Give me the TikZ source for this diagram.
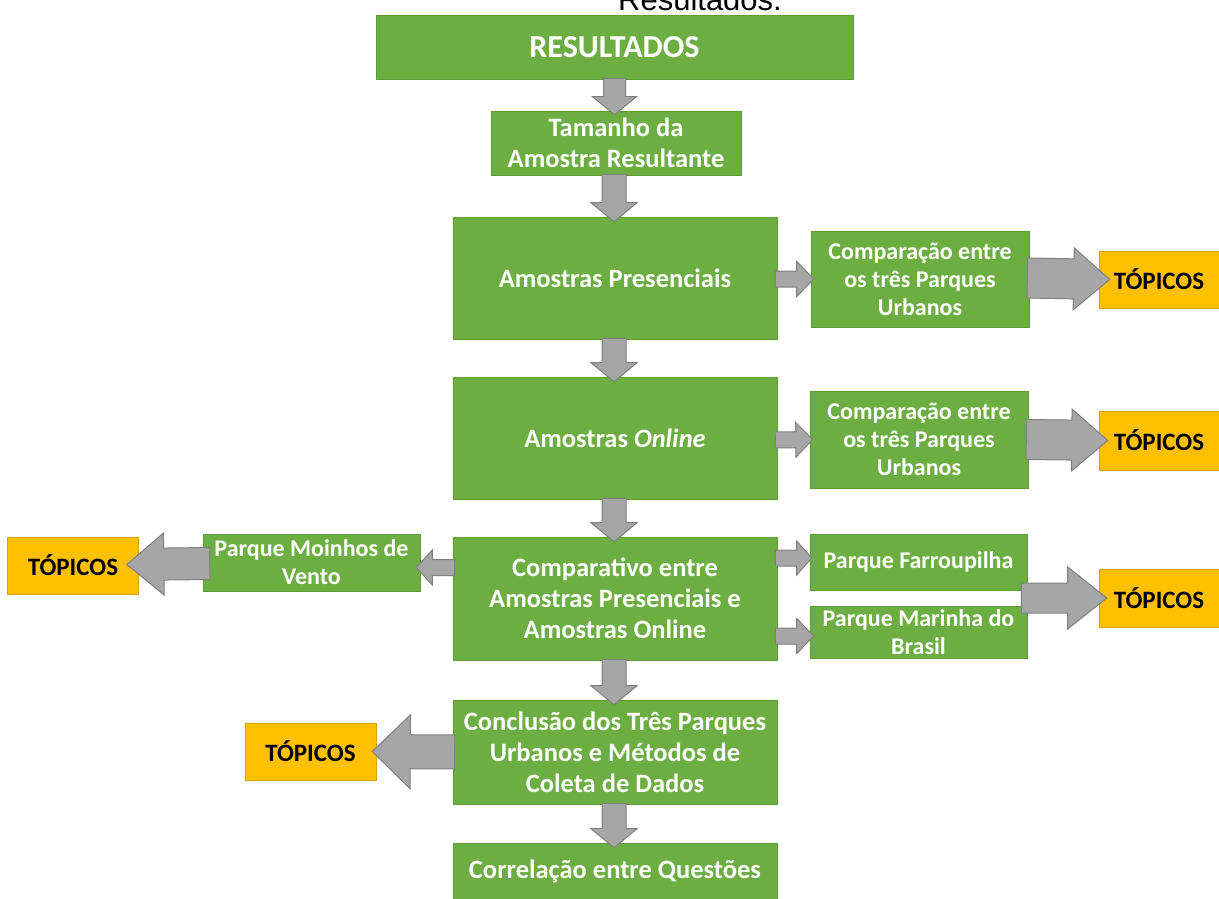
\documentclass[tikz,border=0pt]{standalone}
\usepackage{fontspec}
\setmainfont{Carlito}
\newfontfamily\arialf{Liberation Sans}
\usetikzlibrary{calc}
\definecolor{grn}{HTML}{6DAE43}
\definecolor{grnd}{HTML}{5E9A38}
\definecolor{ylw}{HTML}{FFC000}
\definecolor{ylwd}{HTML}{D9A300}
\definecolor{arrf}{HTML}{A6A6A6}
\definecolor{arrd}{HTML}{7F7F7F}
\tikzset{
  gbox/.style={fill=grn, draw=grnd, line width=0.6pt, text=white, align=center, inner sep=0pt,
    font=\bfseries\fontsize{26.5}{31}\selectfont},
  sbox/.style={gbox, font=\bfseries\fontsize{24}{28}\selectfont},
  tbox/.style={fill=ylw, draw=ylwd, line width=0.6pt, text=black, align=center, inner sep=0pt,
    minimum width=120pt, minimum height=57pt, font=\bfseries\fontsize{25}{28}\selectfont},
  arrstyle/.style={fill=arrf, draw=arrd, line width=1pt, line join=miter},
}
\newcommand\barrow[5]{%
  \coordinate (bA) at (#1);
  \coordinate (bB) at (#2);
  \coordinate (bH) at ($(bB)!#5pt!(bA)$);
  \filldraw[arrstyle] ($(bA)!#3pt!90:(bB)$) -- ($(bH)!#3pt!90:(bB)$) -- ($(bH)!#4pt!90:(bB)$) -- (bB)
    -- ($(bH)!#4pt!-90:(bB)$) -- ($(bH)!#3pt!-90:(bB)$) -- ($(bA)!#3pt!-90:(bB)$) -- cycle;
}
\begin{document}
\begin{tikzpicture}[x=1pt,y=-1pt]
\clip (0,0) rectangle (1219,899);
\fill[white] (0,0) rectangle (1219,899);

\node[anchor=base, font=\arialf\fontsize{31}{36}\selectfont] (title) at (700,11) {Resultados.};

\node[gbox, minimum width=477pt, minimum height=64pt, font=\bfseries\fontsize{32}{36}\selectfont] (res) at (614.5,47) {RESULTADOS};
\node[gbox, minimum width=250pt, minimum height=64pt] (tam) at (616,143) {Tamanho da\\Amostra Resultante};
\node[gbox, minimum width=324pt, minimum height=122pt] (pres) at (615,278) {Amostras Presenciais};
\node[sbox, minimum width=218pt, minimum height=96pt] (comp1) at (920,279) {Comparação entre\\os três Parques\\Urbanos};
\node[tbox] (top1) at (1159,279.5) {TÓPICOS};
\node[gbox, minimum width=324pt, minimum height=122pt] (onl) at (615,438) {Amostras \textit{Online}};
\node[sbox, minimum width=218pt, minimum height=97pt] (comp2) at (919,439.5) {Comparação entre\\os três Parques\\Urbanos};
\node[tbox, minimum height=59pt] (top2) at (1159,440.5) {TÓPICOS};
\node[gbox, minimum width=324pt, minimum height=123pt] (compv) at (615,598.5) {Comparativo entre\\Amostras Presenciais e\\Amostras Online};
\node[sbox, minimum width=217pt, minimum height=57pt] (moi) at (311.5,562.5) {Parque Moinhos de\\Vento};
\node[tbox, minimum width=131pt] (topL) at (73,565.5) {TÓPICOS};
\node[sbox, minimum width=217pt, minimum height=56pt] (farr) at (918.5,562) {Parque Farroupilha};
\node[sbox, minimum width=217pt, minimum height=52pt] (mar) at (918.5,632) {Parque Marinha do\\Brasil};
\node[tbox, minimum height=58pt] (top3) at (1159,598) {TÓPICOS};
\node[gbox, minimum width=324pt, minimum height=104pt] (conc) at (615,752) {Conclusão dos Três Parques\\Urbanos e Métodos de\\Coleta de Dados};
\node[tbox, minimum width=131pt] (topB) at (310.5,751.5) {TÓPICOS};
\node[gbox, minimum width=324pt, minimum height=56pt] (corr) at (615,871) {Correlação entre Questões};

% vertical arrows
\barrow{$(res.south)+(0,-1)$}{$(res.south|-tam.north)+(0,4)$}{11}{22}{18}
\barrow{$(tam.south)+(-2,-1)$}{$(tam.south|-pres.north)+(-2,5)$}{12}{23}{19}
\barrow{$(pres.south)+(-1,-1)$}{$(onl.north)+(-1,5)$}{12}{23}{19}
\barrow{$(onl.south)+(-1,-1)$}{$(compv.north)+(-1,5)$}{12}{23}{19}
\barrow{$(compv.south)+(-1,-1)$}{$(conc.north)+(-1,5)$}{12}{23}{19}
\barrow{$(conc.south)+(-1,-1)$}{$(corr.north)+(-1,5)$}{12}{23}{19}
% right small arrows
\barrow{$(pres.east)+(-2,1)$}{$(comp1.west)+(3,0)$}{8}{17.5}{17}
\barrow{$(onl.east)+(-2,2)$}{$(comp2.west)+(3,0)$}{8}{17.5}{17}
\barrow{$(compv.east|-farr.west)+(-2,-4)$}{$(farr.west)+(2,-4)$}{8}{17}{15}
\barrow{$(compv.east|-mar.west)+(-2,4)$}{$(mar.west)+(4,4)$}{8}{17.5}{17}
% big arrows to TOPICOS
\barrow{$(comp1.east)+(-2,-1)$}{$(top1.west)+(11,0)$}{20}{31}{36}
\barrow{$(comp2.east)+(-2,0)$}{$(top2.west)+(9,0)$}{20}{31}{36}
\barrow{$($(farr.east)!0.5!(mar.east)$)+(-6,1)$}{$(top3.west)+(8,0)$}{15}{31}{39}
% left arrows
\barrow{$(compv.west|-moi.east)+(2,5)$}{$(moi.east)+(-4,5)$}{8}{17.5}{16}
\barrow{$(moi.west)+(7,1)$}{$(topL.east)+(-12,-1)$}{16}{31}{37}
\barrow{$(conc.west)+(2,0)$}{$(topB.east)+(-4,0)$}{17}{37}{38}
\end{tikzpicture}
\end{document}
